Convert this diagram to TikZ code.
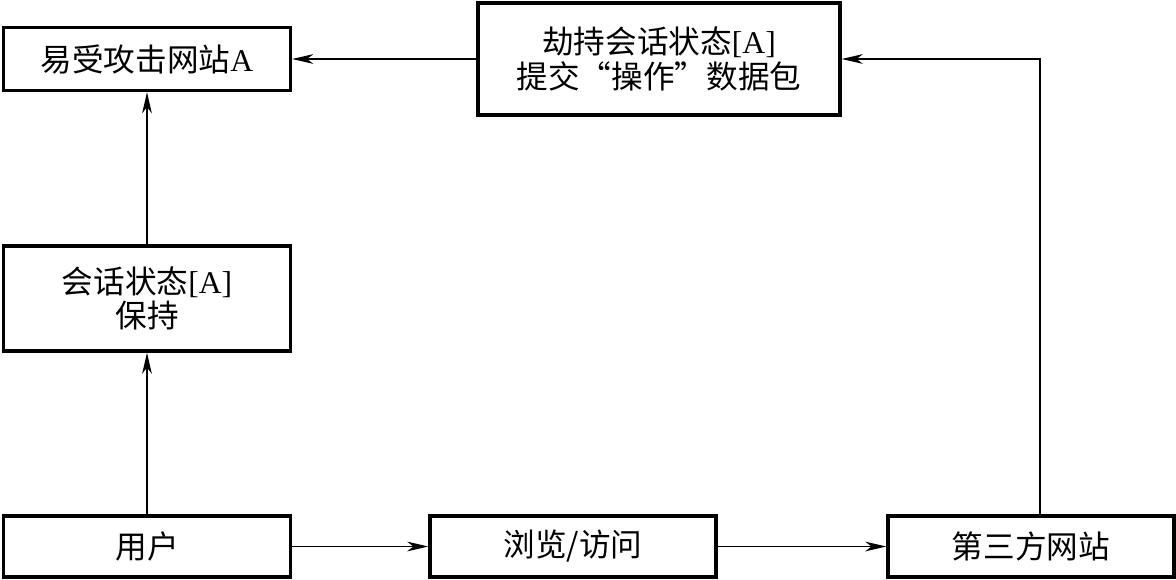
\documentclass[tikz,border=0pt]{standalone}
\usepackage{fontspec}
\setmainfont{Liberation Serif}
\newfontfamily\cjk{Noto Sans CJK SC}
\usetikzlibrary{arrows.meta,positioning}

\tikzset{
	blok/.style={draw, line width=1.9pt, inner sep=0pt, align=center,
		minimum width=5.74cm, minimum height=1.22cm,
		font=\cjk\fontsize{18}{19.5}\selectfont},
	pijl/.style={-{Stealth[length=12pt, width=5.5pt, inset=3.5pt]}, line width=0.8pt}
}

\begin{document}
\begin{tikzpicture}[x=0.02cm, y=-0.02cm]
	\useasboundingbox (0,0) rectangle (1176,579);
	
	\node[blok, minimum height=1.26cm] (site) at (147,59) {易受攻击网站{\rmfamily A}};
	\node[blok, minimum width=7.24cm, minimum height=2.24cm] (hijack) at (659,59)
		{劫持会话状态{\rmfamily[A]}\\提交“操作”数据包};
	\node[blok, minimum height=2.1cm] (state) at (147,298.5) {会话状态{\rmfamily[A]}\\保持};
	
	\node[blok] (user) at (147,546.5) {用户};
	\node[blok, minimum width=5.72cm] (browse) at (573,546.5) {浏览/访问};
	\node[blok, minimum width=5.72cm] (third) at (1031,546.5) {第三方网站};
	
	\draw[pijl] (user) -- (state);
	\draw[pijl] (state) -- (site);
	\draw[pijl] (user) -- (browse);
	\draw[pijl] (browse) -- (third);
	\draw[pijl] ([xshift=0.18cm]third.north) |- (hijack.east);
	\draw[pijl] (hijack) -- (site);
\end{tikzpicture}
\end{document}
